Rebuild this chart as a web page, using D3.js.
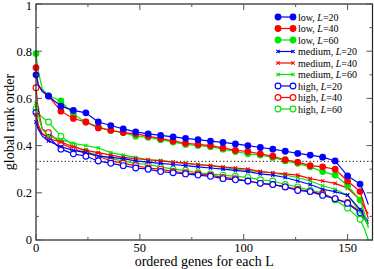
<!DOCTYPE html>
<html>
<head>
<meta charset="utf-8">
<script src="https://cdn.jsdelivr.net/npm/d3@7"></script>
<style>
  body { margin: 0; background: #fff; }
  svg { display: block; font-family: "Liberation Serif", "DejaVu Serif", serif; }
</style>
</head>
<body>
<svg id="chart" width="374" height="269"></svg>
<script>
// x positions where each series was sampled (markers sit on multiples of 6)
const xs = [0, 1, 3, 6, 12, 18, 24, 30, 36, 42, 48, 54, 60, 66, 72, 78, 84, 90, 96,
            102, 108, 114, 120, 126, 132, 138, 144, 150, 156, 158, 160];

const lowL20 = [0.70, 0.66, 0.63, 0.61, 0.567, 0.549, 0.539, 0.50, 0.485, 0.471, 0.458, 0.45, 0.443, 0.437, 0.431, 0.425, 0.419, 0.414, 0.407,
                0.40, 0.392, 0.385, 0.376, 0.367, 0.36, 0.351, 0.335, 0.272, 0.237, 0.20, 0.15];
const lowL40 = [0.73, 0.66, 0.63, 0.61, 0.546, 0.515, 0.50, 0.475, 0.465, 0.455, 0.45, 0.44, 0.43, 0.42, 0.41, 0.405, 0.40, 0.39, 0.38,
                0.375, 0.365, 0.355, 0.34, 0.33, 0.315, 0.31, 0.30, 0.25, 0.205, 0.15, 0.09];
const lowL60 = [0.79, 0.72, 0.64, 0.612, 0.589, 0.532, 0.50, 0.48, 0.464, 0.455, 0.44, 0.435, 0.425, 0.415, 0.405, 0.40, 0.395, 0.385, 0.375,
                0.365, 0.36, 0.35, 0.335, 0.325, 0.31, 0.29, 0.275, 0.23, 0.17, 0.12, 0.05];
const medL20 = [0.50, 0.47, 0.44, 0.42, 0.395, 0.38, 0.37, 0.355, 0.35, 0.345, 0.335, 0.33, 0.325, 0.32, 0.315, 0.31, 0.305, 0.30, 0.295,
                0.29, 0.28, 0.275, 0.265, 0.25, 0.235, 0.215, 0.205, 0.19, 0.13, 0.10, 0.08];
const medL40 = [0.53, 0.49, 0.45, 0.43, 0.415, 0.395, 0.38, 0.37, 0.36, 0.35, 0.345, 0.34, 0.335, 0.33, 0.325, 0.32, 0.315, 0.31, 0.305,
                0.30, 0.29, 0.285, 0.28, 0.275, 0.26, 0.25, 0.24, 0.22, 0.17, 0.14, 0.11];
const medL60 = [0.58, 0.53, 0.47, 0.44, 0.425, 0.41, 0.40, 0.39, 0.37, 0.36, 0.35, 0.34, 0.337, 0.33, 0.326, 0.318, 0.315, 0.308, 0.30,
                0.295, 0.29, 0.285, 0.275, 0.265, 0.25, 0.23, 0.215, 0.19, 0.12, 0.09, 0.06];
const highL20 = [0.54, 0.48, 0.45, 0.435, 0.385, 0.365, 0.355, 0.335, 0.325, 0.315, 0.305, 0.30, 0.29, 0.285, 0.28, 0.275, 0.27, 0.26, 0.255,
                 0.25, 0.24, 0.235, 0.225, 0.21, 0.205, 0.189, 0.175, 0.155, 0.115, 0.09, 0.07];
const highL40 = [0.645, 0.56, 0.47, 0.455, 0.41, 0.385, 0.37, 0.355, 0.335, 0.325, 0.315, 0.305, 0.30, 0.29, 0.285, 0.28, 0.275, 0.265, 0.26,
                 0.25, 0.24, 0.235, 0.225, 0.215, 0.205, 0.195, 0.175, 0.159, 0.12, 0.09, 0.07];
const highL60 = [0.555, 0.54, 0.52, 0.50, 0.44, 0.40, 0.375, 0.36, 0.345, 0.335, 0.325, 0.32, 0.31, 0.30, 0.295, 0.285, 0.28, 0.275, 0.27,
                 0.265, 0.255, 0.25, 0.235, 0.225, 0.21, 0.20, 0.17, 0.135, 0.088, 0.05, 0.0];

const seriesNames = ['low, L=20', 'low, L=40', 'low, L=60',
                     'medium, L=20', 'medium, L=40', 'medium, L=60',
                     'high, L=20', 'high, L=40', 'high, L=60'];
const seriesValues = [lowL20, lowL40, lowL60, medL20, medL40, medL60, highL20, highL40, highL60];
const seriesColors = ['#0000ff', '#ff0000', '#00e600'];
const seriesSymbols = ['filled', 'filled', 'filled', 'cross', 'cross', 'cross', 'open', 'open', 'open'];

const xTicks = [0, 50, 100, 150];
const xMinorTicks = [25, 75, 125];
const yTicks = [0, 0.2, 0.4, 0.6, 0.8, 1];
const yMinorTicks = [0.1, 0.3, 0.5, 0.7, 0.9];
const refLine = 1 / 3;

const svg = d3.select('#chart');
const box = { left: 36, right: 372.5, top: 4, bottom: 240 };

const x = d3.scaleLinear().domain([0, 162]).range([box.left, box.right]);
const y = d3.scaleLinear().domain([0, 1]).range([box.bottom, box.top]);

// dotted reference line
svg.append('line')
    .attr('x1', x(0)).attr('x2', box.right)
    .attr('y1', y(refLine)).attr('y2', y(refLine))
    .attr('stroke', '#000')
    .attr('stroke-width', 1)
    .attr('stroke-dasharray', '1.2,2.4');

const line = d3.line()
    .x(d => x(d[0]))
    .y(d => y(d[1]));

function drawSymbol(g, kind, color, cx, cy) {
    if (kind === 'filled') {
        g.append('circle').attr('cx', cx).attr('cy', cy).attr('r', 3.4)
            .attr('fill', color);
    } else if (kind === 'open') {
        g.append('circle').attr('cx', cx).attr('cy', cy).attr('r', 2.9)
            .attr('fill', '#fff').attr('stroke', color).attr('stroke-width', 1.1);
    } else {
        const s = 1.7;
        g.append('path')
            .attr('d', `M${cx - s},${cy - s}L${cx + s},${cy + s}M${cx - s},${cy + s}L${cx + s},${cy - s}`)
            .attr('stroke', color).attr('stroke-width', 1.1);
    }
}

// draw from last to first so "low" series end up on top
const plot = svg.append('g');
for (let i = seriesValues.length - 1; i >= 0; i--) {
    const color = seriesColors[i % 3];
    const pts = xs.map((v, j) => [v, seriesValues[i][j]]);
    const g = plot.append('g');
    g.append('path')
        .datum(pts)
        .attr('d', line)
        .attr('fill', 'none')
        .attr('stroke', color)
        .attr('stroke-width', 1.2);
    pts.filter(p => p[0] % 6 === 0).forEach(p => {
        drawSymbol(g, seriesSymbols[i], color, x(p[0]), y(p[1]));
    });
}

// frame
svg.append('rect')
    .attr('x', box.left).attr('y', box.top)
    .attr('width', box.right - box.left).attr('height', box.bottom - box.top)
    .attr('fill', 'none')
    .attr('stroke', '#222')
    .attr('stroke-width', 1.2);

// ticks on all four sides, pointing inwards
const tg = svg.append('g').attr('stroke', '#555').attr('stroke-width', 1);
function xTick(t, len) {
    tg.append('line').attr('x1', x(t)).attr('x2', x(t)).attr('y1', box.bottom).attr('y2', box.bottom - len);
    tg.append('line').attr('x1', x(t)).attr('x2', x(t)).attr('y1', box.top).attr('y2', box.top + len);
}
function yTick(t, len) {
    tg.append('line').attr('x1', box.left).attr('x2', box.left + len).attr('y1', y(t)).attr('y2', y(t));
    tg.append('line').attr('x1', box.right).attr('x2', box.right - len).attr('y1', y(t)).attr('y2', y(t));
}
xTicks.forEach(t => xTick(t, 6));
xMinorTicks.forEach(t => xTick(t, 3));
yTicks.forEach(t => yTick(t, 6));
yMinorTicks.forEach(t => yTick(t, 3));

// tick labels
svg.append('g').selectAll('text')
    .data(xTicks)
    .join('text')
    .attr('x', d => x(d))
    .attr('y', 251.5)
    .attr('text-anchor', 'middle')
    .attr('font-size', 12.5)
    .text(d => d);

svg.append('g').selectAll('text')
    .data(yTicks)
    .join('text')
    .attr('x', 32)
    .attr('y', d => Math.max(y(d), 6))
    .attr('dy', '0.35em')
    .attr('text-anchor', 'end')
    .attr('font-size', 12.5)
    .text(d => d3.format('')(d));

// axis titles
svg.append('text')
    .attr('x', (box.left + box.right) / 2)
    .attr('y', 266)
    .attr('text-anchor', 'middle')
    .attr('font-size', 14)
    .text('ordered genes for each L');

svg.append('text')
    .attr('transform', `translate(14,${(box.top + box.bottom) / 2}) rotate(-90)`)
    .attr('text-anchor', 'middle')
    .attr('font-size', 14)
    .text('global rank order');

// legend
const legend = svg.append('g');
seriesNames.forEach((name, i) => {
    const ly = 17 + i * 11.5;
    const color = seriesColors[i % 3];
    const g = legend.append('g');
    g.append('line')
        .attr('x1', 278).attr('x2', 293)
        .attr('y1', ly).attr('y2', ly)
        .attr('stroke', color).attr('stroke-width', 1.2);
    drawSymbol(g, seriesSymbols[i], color, 278, ly);
    drawSymbol(g, seriesSymbols[i], color, 293, ly);
    const parts = name.split('L');
    const t = g.append('text')
        .attr('x', 298).attr('y', ly)
        .attr('dy', '0.35em')
        .attr('font-size', 10);
    t.append('tspan').text(parts[0]);
    t.append('tspan').attr('font-style', 'italic').text('L');
    t.append('tspan').text(parts[1]);
});
</script>
</body>
</html>
